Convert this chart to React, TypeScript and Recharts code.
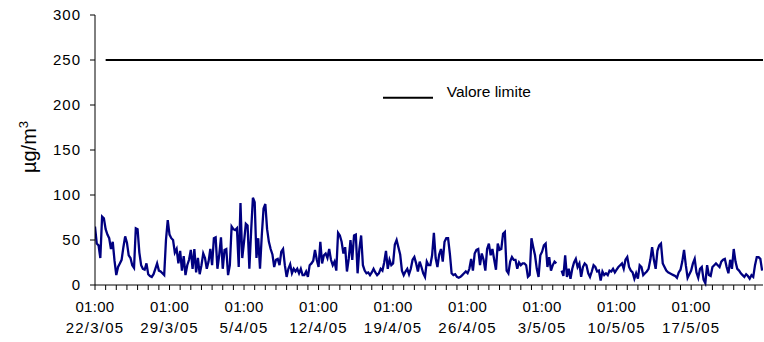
import React from 'react';
import { LineChart, Line, XAxis, YAxis, Legend } from 'recharts';

// Hourly concentration sampled every 4 hours, starting 22/3/05 01:00
const HOURS_PER_STEP = 4;
const AXIS_END_HOUR = 1506;
const LIMIT_VALUE = 250;
const LIMIT_START_HOUR = 24;
const TIME_LABEL = '01:00';
const DATE_LABELS = ['22/3/05', '29/3/05', '5/4/05', '12/4/05', '19/4/05', '26/4/05', '3/5/05', '10/5/05', '17/5/05'];
const Y_TICKS = [0, 50, 100, 150, 200, 250, 300];

const week1 = [
  65, 46, 44, 30, 76, 74,
  62, 56, 52, 40, 48, 27,
  11, 20, 24, 28, 42, 54,
  47, 33, 30, 22, 19, 63,
  62, 36, 22, 18, 17, 24,
  12, 10, 9, 12, 18, 24,
  16, 15, 13, 11, 50, 72,
];
const week2 = [
  56, 52, 50, 36, 40, 24,
  38, 16, 32, 11, 22, 28,
  39, 18, 40, 14, 30, 12,
  22, 35, 30, 18, 26, 40,
  22, 52, 53, 18, 33, 53,
  18, 39, 40, 11, 22, 65,
  62, 61, 63, 20, 91, 30,
];
const week3 = [
  48, 68, 66, 18, 60, 97,
  92, 30, 52, 18, 55, 85,
  90, 62, 48, 40, 34, 20,
  28, 29, 22, 37, 40, 22,
  9, 18, 23, 13, 18, 15,
  18, 13, 18, 11, 11, 15,
  9, 22, 24, 27, 39, 28,
];
const week4 = [
  20, 48, 24, 33, 35, 30,
  40, 28, 22, 26, 16, 58,
  55, 48, 35, 42, 15, 29,
  50, 28, 55, 56, 13, 40,
  55, 22, 16, 13, 14, 11,
  14, 18, 14, 11, 13, 18,
  16, 25, 38, 18, 28, 22,
];
const week5 = [
  24, 45, 50, 42, 34, 16,
  11, 15, 18, 12, 18, 28,
  31, 24, 15, 26, 20, 13,
  9, 26, 22, 22, 33, 58,
  30, 20, 34, 40, 26, 48,
  52, 52, 35, 13, 11, 12,
  9, 8, 9, 11, 13, 15,
];
const week6 = [
  13, 18, 29, 16, 35, 39,
  40, 22, 35, 28, 16, 40,
  46, 33, 40, 28, 17, 46,
  39, 40, 57, 59, 16, 13,
  26, 31, 28, 28, 18, 25,
  22, 24, 24, 22, 9, 11,
  52, 42, 33, 18, 9, 33,
];
const week7 = [
  37, 44, 46, 20, 31, 16,
  22, 26, 24, null, null, 16,
  10, 33, 9, 18, 7, 18,
  25, 29, 20, 24, 9, 20,
  24, 22, 13, 9, 15, 22,
  20, 15, 16, 5, 15, 11,
  13, 11, 16, 15, 18, 14,
];
const week8 = [
  17, 20, 22, 24, 18, 28,
  31, 20, 16, 14, 7, 13,
  7, 22, 20, 11, 13, 15,
  18, 28, 42, 28, 18, 38,
  44, 46, 24, 20, 16, 14,
  13, 12, 11, 10, 8, 14,
  17, 26, 39, 22, 8, 12,
];
const week9 = [
  16, 24, 29, 14, 8, 18,
  20, 6, 2, 22, 11, 10,
  20, 22, 24, 22, 20, 26,
  28, 29, 20, 13, 28, 18,
  40, 26, 18, 16, 13, 11,
  9, 12, 10, 7, 11, 9,
  22, 31, 31, 29, 16,
];

const concentration: (number | null)[] = [
  ...week1, ...week2, ...week3, ...week4, ...week5, ...week6, ...week7, ...week8, ...week9,
];

const chartData = [
  ...concentration.map((v, i) => {
    const hour = i * HOURS_PER_STEP;
    return { hour, conc: v, limit: hour >= LIMIT_START_HOUR ? LIMIT_VALUE : null };
  }),
  { hour: AXIS_END_HOUR, conc: null, limit: LIMIT_VALUE },
];

const dayTicks = Array.from({ length: Math.floor(AXIS_END_HOUR / 24) + 1 }, (_, i) => i * 24);

const FONT = '"Liberation Sans", Arial, sans-serif';

const XTick = (props: any) => {
  const { x, y, payload } = props;
  if (payload.value % 168 !== 0) return <g />;
  const label = DATE_LABELS[payload.value / 168];
  return (
    <g>
      <text x={x} y={y + 19.7} textAnchor="middle" fontSize={15} fill="#000" fontFamily={FONT} letterSpacing={0.3}>
        {TIME_LABEL}
      </text>
      <text x={x} y={y + 41.3} textAnchor="middle" fontSize={15} fill="#000" fontFamily={FONT} letterSpacing={1.2}>
        {label}
      </text>
    </g>
  );
};

const YTick = (props: any) => {
  const { x, y, payload } = props;
  return (
    <text x={x} y={y} dy="0.36em" textAnchor="end" fontSize={15} fill="#000" fontFamily={FONT} letterSpacing={1}>
      {payload.value}
    </text>
  );
};

const UnitLabel = () => (
  <text transform="translate(36,147) rotate(-90)" textAnchor="middle" fontSize={20} fill="#000" fontFamily={FONT}>
    µg/m<tspan dy={-8} fontSize={13}>3</tspan>
  </text>
);

const LimitLegend = () => (
  <svg width={170} height={20}>
    <line x1={0} y1={13.7} x2={50} y2={13.7} stroke="#000" strokeWidth={2} />
    <text x={63.7} y={12.7} fontSize={15.5} fill="#000" fontFamily={FONT}>
      Valore limite
    </text>
  </svg>
);

export default function App() {
  return (
    <div style={{ position: 'absolute', left: 0, top: 0, background: '#fff' }}>
      <LineChart
        width={764}
        height={342}
        data={chartData}
        margin={{ top: 15, right: 1, bottom: 0, left: 0 }}
      >
        <XAxis
          type="number"
          dataKey="hour"
          domain={[0, AXIS_END_HOUR]}
          ticks={dayTicks}
          interval={0}
          tick={<XTick />}
          tickSize={5}
          tickMargin={2}
          height={57}
          axisLine={{ stroke: '#000' }}
          tickLine={{ stroke: '#000' }}
          allowDataOverflow
        />
        <YAxis
          type="number"
          domain={[0, 300]}
          ticks={Y_TICKS}
          interval={0}
          width={95}
          tickSize={5}
          tickMargin={9}
          tick={<YTick />}
          axisLine={{ stroke: '#000' }}
          tickLine={{ stroke: '#000' }}
          label={{ content: <UnitLabel /> }}
        />
        <Legend
          layout="horizontal"
          verticalAlign="middle"
          align="center"
          wrapperStyle={{ left: 383, top: 84, width: 170, height: 20 }}
          content={<LimitLegend />}
        />
        <Line
          dataKey="limit"
          name="Valore limite"
          stroke="#000"
          strokeWidth={2}
          dot={false}
          activeDot={false}
          connectNulls={false}
          isAnimationActive={false}
        />
        <Line
          dataKey="conc"
          stroke="#000080"
          strokeWidth={2.3}
          dot={false}
          activeDot={false}
          connectNulls={false}
          isAnimationActive={false}
        />
      </LineChart>
    </div>
  );
}
